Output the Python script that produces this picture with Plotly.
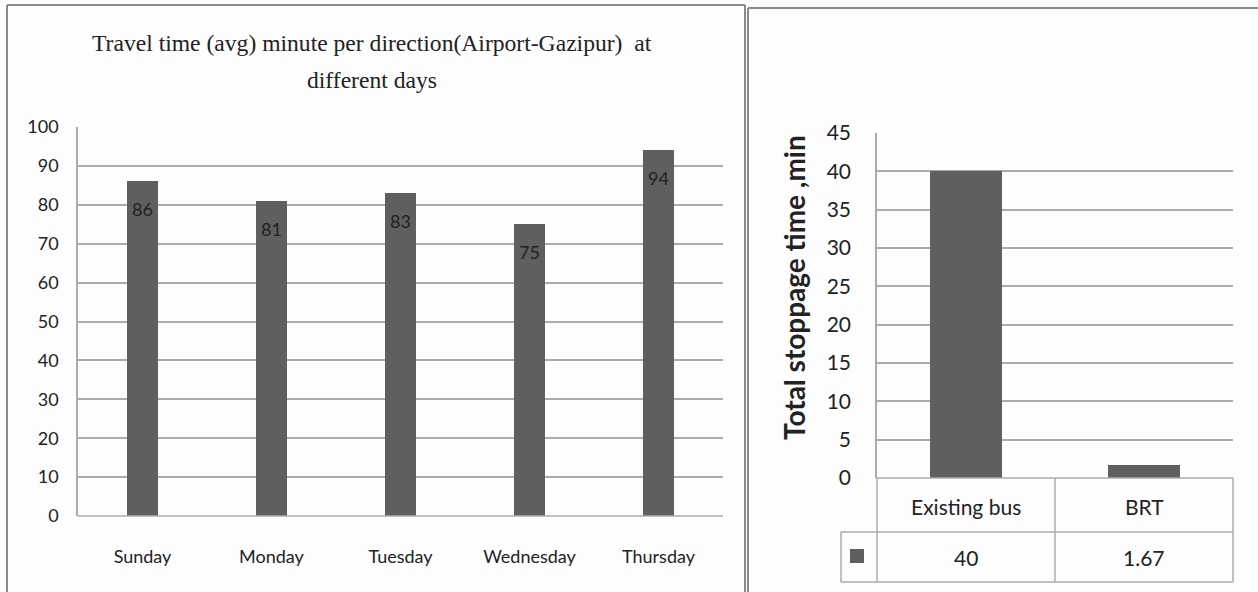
import plotly.graph_objects as go

# Travel time per day (minutes, Airport-Gazipur)
days = ["Sunday", "Monday", "Tuesday", "Wednesday", "Thursday"]
travel_minutes = [86, 81, 83, 75, 94]

# Total stoppage time by mode (minutes)
modes = ["Existing bus", "BRT"]
stoppage_minutes = [40, 1.67]

W, H = 1258, 592
BAR = "#5f5f5f"
GRID = "#ababab"
EDGE = "#8a8a8a"
SANS = "Lato"
INK = "#222222"


def px(x):
    return x / W


def py(y):
    return 1 - y / H


fig = go.Figure()

fig.add_trace(go.Bar(x=days, y=travel_minutes, marker=dict(color=BAR, line=dict(width=0)),
                     width=0.24, xaxis="x", yaxis="y", hoverinfo="x+y"))
fig.add_trace(go.Bar(x=modes, y=stoppage_minutes, marker=dict(color=BAR, line=dict(width=0)),
                     width=0.4, xaxis="x2", yaxis="y2", hoverinfo="x+y"))

left_font = dict(family=SANS, size=18, color=INK)
right_font = dict(family=SANS, size=21, color=INK)

fig.update_layout(
    width=W, height=H,
    margin=dict(l=0, r=0, t=0, b=0, autoexpand=False),
    paper_bgcolor="#fdfdfd", plot_bgcolor="#fdfdfd",
    showlegend=False,
    xaxis=dict(domain=[px(78), px(723)], showgrid=False, ticks="", tickfont=left_font,
               ticklabelstandoff=28, showline=False, zeroline=False, automargin=False),
    yaxis=dict(domain=[py(516), py(127)], range=[0, 100], dtick=10, showgrid=True,
               gridcolor=GRID, gridwidth=1.5, tickfont=left_font, ticks="",
               ticklabelstandoff=14, showline=True, linecolor=GRID, linewidth=1.5,
               zeroline=False, automargin=False),
    xaxis2=dict(domain=[px(877), px(1233)], showgrid=False, ticks="", showticklabels=False,
                showline=False, zeroline=False, anchor="y2", automargin=False),
    yaxis2=dict(domain=[py(478), py(133)], range=[0, 45], dtick=5, showgrid=True,
                gridcolor=GRID, gridwidth=1.5, tickfont=right_font, ticks="",
                ticklabelstandoff=20, showline=True, linecolor=GRID, linewidth=1.5,
                zeroline=False, anchor="x2", automargin=False),
    bargap=0,
)

annotations = []

# Chart title on two lines
title_font = dict(family="Liberation Serif", size=23.6, color=INK)
annotations.append(dict(x=px(372), y=py(43), xref="paper", yref="paper", showarrow=False,
                        text="Travel time (avg) minute per direction(Airport-Gazipur)  at",
                        font=title_font, xanchor="center", yanchor="middle"))
annotations.append(dict(x=px(372), y=py(80), xref="paper", yref="paper", showarrow=False,
                        text="different days", font=title_font,
                        xanchor="center", yanchor="middle"))

# Value labels inside the top of each bar
for d, v in zip(days, travel_minutes):
    annotations.append(dict(x=d, y=v, xref="x", yref="y", text=str(v), showarrow=False,
                            yshift=-28, font=left_font, yanchor="middle"))

# Rotated axis title for stoppage chart
annotations.append(dict(x=px(794), y=py(288), xref="paper", yref="paper", showarrow=False,
                        text="<b>Total stoppage time ,min</b>", textangle=-90,
                        font=dict(family=SANS, size=28, color=INK),
                        xanchor="center", yanchor="middle"))

# Data table: category row and value row
for m, v in zip(modes, stoppage_minutes):
    annotations.append(dict(x=m, y=py(506), xref="x2", yref="paper", text=m, showarrow=False,
                            font=right_font, yanchor="middle"))
    annotations.append(dict(x=m, y=py(557), xref="x2", yref="paper", text=f"{v:g}",
                            showarrow=False, font=right_font, yanchor="middle"))

fig.update_layout(annotations=annotations)

shapes = []
line_edge = dict(color=EDGE, width=2)
line_tab = dict(color=GRID, width=1.5)

# Panel frames
shapes.append(dict(type="line", xref="paper", yref="paper", x0=px(7), x1=px(7), y0=py(5), y1=0, line=line_edge))
shapes.append(dict(type="line", xref="paper", yref="paper", x0=px(7), x1=px(745), y0=py(5), y1=py(5), line=line_edge))
shapes.append(dict(type="line", xref="paper", yref="paper", x0=px(745), x1=px(745), y0=py(5), y1=0, line=line_edge))
shapes.append(dict(type="line", xref="paper", yref="paper", x0=px(748), x1=px(748), y0=py(8), y1=0, line=line_edge))
shapes.append(dict(type="line", xref="paper", yref="paper", x0=px(748), x1=1, y0=py(8), y1=py(8), line=line_edge))

# Table grid under the stoppage chart
tx0, tmid, tx1, tkey = px(877), px(1055), px(1233), px(841)
ty0, ty1, ty2 = py(478), py(532), py(582)
for x in (tx0, tmid, tx1):
    shapes.append(dict(type="line", xref="paper", yref="paper", x0=x, x1=x, y0=ty0, y1=ty2, line=line_tab))
shapes.append(dict(type="line", xref="paper", yref="paper", x0=tkey, x1=tkey, y0=ty1, y1=ty2, line=line_tab))
shapes.append(dict(type="line", xref="paper", yref="paper", x0=tkey, x1=tx1, y0=ty1, y1=ty1, line=line_tab))
shapes.append(dict(type="line", xref="paper", yref="paper", x0=tkey, x1=tx1, y0=ty2, y1=ty2, line=line_tab))
shapes.append(dict(type="line", xref="paper", yref="paper", x0=tx0, x1=tx1, y0=ty0, y1=ty0, line=line_tab))
# Legend key swatch
shapes.append(dict(type="rect", xref="paper", yref="paper", x0=px(850), x1=px(864), y0=py(563), y1=py(549),
                   fillcolor=BAR, line=dict(width=0)))
# Baseline of the travel-time chart
shapes.append(dict(type="line", xref="paper", yref="paper", x0=px(78), x1=px(723), y0=py(516), y1=py(516), line=line_tab))

fig.update_layout(shapes=shapes)

fig.write_html("out.html")
